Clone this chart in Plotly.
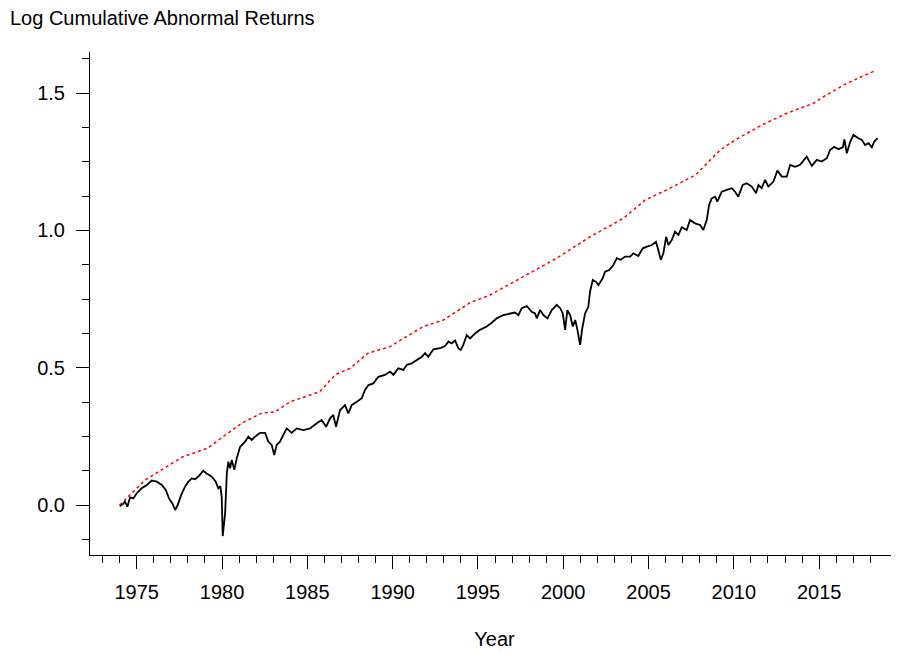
import plotly.graph_objects as go

# Red dotted benchmark line (year, value)
red_year = [1974.0, 1975.49, 1977.64, 1979.18, 1980.35, 1981.17, 1982.34, 1983.1, 1983.99,
            1985.74, 1986.62, 1987.5, 1988.56, 1989.85, 1990.63, 1991.8, 1992.97, 1994.54,
            1995.71, 1997.66, 1999.62, 2001.57, 2003.52, 2004.8, 2006.07, 2007.75, 2009.2,
            2010.08, 2011.65, 2013.1, 2014.66, 2015.25, 2016.62, 2018.28]
red_val = [0.0, 0.091, 0.174, 0.208, 0.262, 0.299, 0.335, 0.339, 0.376,
           0.413, 0.474, 0.498, 0.553, 0.577, 0.607, 0.650, 0.674, 0.737,
           0.765, 0.832, 0.899, 0.977, 1.044, 1.111, 1.148, 1.202, 1.293,
           1.330, 1.384, 1.427, 1.463, 1.487, 1.536, 1.582]

# Black line: log cumulative abnormal returns (year, value)
blk_year = [1974.0, 1974.2, 1974.31, 1974.45, 1974.61, 1974.8, 1975.0, 1975.29, 1975.59, 1975.88,
            1976.17, 1976.47, 1976.7, 1976.89, 1977.09, 1977.25, 1977.4, 1977.6, 1977.83, 1978.03,
            1978.22, 1978.42, 1978.65, 1978.9, 1979.1, 1979.4, 1979.63, 1979.78, 1979.9, 1979.98,
            1980.04, 1980.1, 1980.18, 1980.28, 1980.37, 1980.47, 1980.57, 1980.72, 1980.86, 1981.06,
            1981.35, 1981.54, 1981.74, 1981.93, 1982.23, 1982.52, 1982.71, 1982.91, 1983.06, 1983.2,
            1983.4, 1983.59, 1983.79, 1984.08, 1984.38, 1984.77, 1985.16, 1985.55, 1985.84, 1986.1,
            1986.33, 1986.52, 1986.68, 1986.92, 1987.21, 1987.4, 1987.6, 1987.9, 1988.19, 1988.38,
            1988.58, 1988.87, 1989.16, 1989.55, 1989.85, 1990.04, 1990.33, 1990.63, 1990.82, 1991.12,
            1991.41, 1991.71, 1991.9, 1992.09, 1992.39, 1992.78, 1993.07, 1993.27, 1993.46, 1993.66,
            1993.85, 1993.99, 1994.14, 1994.34, 1994.54, 1994.83, 1995.12, 1995.51, 1995.81, 1996.1,
            1996.49, 1996.88, 1997.17, 1997.37, 1997.57, 1997.86, 1998.15, 1998.35, 1998.45, 1998.64,
            1998.84, 1999.07, 1999.33, 1999.62, 1999.82, 1999.97, 2000.11, 2000.24, 2000.4, 2000.56,
            2000.7, 2000.83, 2000.99, 2001.1, 2001.28, 2001.47, 2001.57, 2001.73, 2001.92, 2002.06,
            2002.31, 2002.45, 2002.7, 2002.94, 2003.14, 2003.37, 2003.62, 2003.92, 2004.11, 2004.4,
            2004.66, 2004.9, 2005.19, 2005.44, 2005.58, 2005.72, 2005.87, 2006.03, 2006.16, 2006.36,
            2006.55, 2006.75, 2006.95, 2007.24, 2007.43, 2007.72, 2008.02, 2008.21, 2008.41, 2008.55,
            2008.7, 2008.9, 2009.03, 2009.29, 2009.58, 2009.88, 2010.07, 2010.26, 2010.52, 2010.75,
            2011.05, 2011.3, 2011.44, 2011.63, 2011.83, 2012.02, 2012.32, 2012.55, 2012.81, 2013.1,
            2013.3, 2013.59, 2013.88, 2014.27, 2014.57, 2014.86, 2015.15, 2015.45, 2015.64, 2015.88,
            2016.13, 2016.39, 2016.48, 2016.62, 2016.82, 2017.01, 2017.3, 2017.5, 2017.69, 2017.89,
            2018.09, 2018.22, 2018.42]
blk_val = [-0.004, 0.004, 0.012, -0.006, 0.028, 0.024, 0.043, 0.061, 0.073, 0.089,
           0.085, 0.073, 0.055, 0.024, 0.006, -0.018, 0.0, 0.036, 0.067, 0.085,
           0.097, 0.094, 0.106, 0.125, 0.115, 0.103, 0.085, 0.061, 0.069, 0.030,
           -0.113, -0.067, -0.030, 0.115, 0.158, 0.134, 0.164, 0.128, 0.170, 0.212,
           0.231, 0.249, 0.237, 0.249, 0.263, 0.263, 0.231, 0.219, 0.182, 0.219,
           0.231, 0.255, 0.279, 0.263, 0.279, 0.273, 0.279, 0.298, 0.310, 0.285,
           0.316, 0.328, 0.285, 0.346, 0.364, 0.334, 0.364, 0.376, 0.389, 0.419,
           0.437, 0.443, 0.467, 0.474, 0.486, 0.474, 0.498, 0.492, 0.510, 0.516,
           0.528, 0.540, 0.553, 0.540, 0.567, 0.571, 0.579, 0.595, 0.589, 0.599,
           0.571, 0.565, 0.583, 0.619, 0.607, 0.625, 0.638, 0.650, 0.664, 0.680,
           0.692, 0.698, 0.701, 0.692, 0.717, 0.725, 0.704, 0.698, 0.680, 0.710,
           0.692, 0.680, 0.710, 0.729, 0.717, 0.698, 0.638, 0.710, 0.692, 0.650,
           0.674, 0.638, 0.583, 0.638, 0.698, 0.722, 0.777, 0.820, 0.813, 0.801,
           0.826, 0.850, 0.856, 0.874, 0.899, 0.893, 0.905, 0.905, 0.917, 0.907,
           0.935, 0.941, 0.947, 0.959, 0.923, 0.893, 0.917, 0.977, 0.947, 0.965,
           0.996, 0.984, 1.012, 1.002, 1.038, 1.026, 1.020, 1.002, 1.038, 1.093,
           1.117, 1.123, 1.105, 1.141, 1.148, 1.154, 1.141, 1.123, 1.166, 1.172,
           1.160, 1.136, 1.166, 1.154, 1.184, 1.160, 1.178, 1.218, 1.196, 1.196,
           1.239, 1.232, 1.239, 1.269, 1.235, 1.257, 1.251, 1.263, 1.293, 1.305,
           1.296, 1.303, 1.332, 1.281, 1.323, 1.348, 1.336, 1.330, 1.311, 1.318,
           1.303, 1.323, 1.336]

# Yearly minor tick positions shown in the reference (1973..2018)
minor_years = list(range(1973, 2019))

FONT = "Liberation Sans, Arial, sans-serif"

# The page body adds an 8px margin, so the figure is sized/offset to compensate.
W, H = 891, 646

fig = go.Figure()
fig.add_trace(go.Scatter(x=red_year, y=red_val, mode="lines",
                         line=dict(color="#ff0000", width=1.5, dash="dot"),
                         showlegend=False, hoverinfo="skip"))
fig.add_trace(go.Scatter(x=blk_year, y=blk_val, mode="lines",
                         line=dict(color="#000000", width=1.8),
                         showlegend=False))

fig.update_layout(
    width=W, height=H,
    paper_bgcolor="white", plot_bgcolor="white",
    margin=dict(l=82, r=0, t=44, b=99, autoexpand=False),
    font=dict(family=FONT, size=20, color="#000000"),
    title=dict(text="Log Cumulative Abnormal Returns", x=2/W, xanchor="left",
               y=1-10/H, yanchor="middle", pad=dict(l=0, r=0, t=0, b=0),
               font=dict(family=FONT, size=20)),
    xaxis=dict(range=[1972.26, 2019.68], showgrid=False, zeroline=False, automargin=False,
               showline=True, linecolor="black", linewidth=1,
               ticks="outside", ticklen=13, tickwidth=1, tickcolor="black",
               tick0=1975, dtick=5, ticklabelstandoff=6,
               minor=dict(ticks="outside", ticklen=7, tickwidth=1, tickcolor="black",
                          tickmode="array", tickvals=minor_years, showgrid=False),
               title=dict(text="Year", standoff=29, font=dict(size=20))),
    yaxis=dict(range=[-0.182, 1.650], showgrid=False, zeroline=False, automargin=False,
               showline=True, linecolor="black", linewidth=1,
               ticks="outside", ticklen=13, tickwidth=1, tickcolor="black",
               tick0=0, dtick=0.5, tickformat=".1f", ticklabelstandoff=7,
               minor=dict(ticks="outside", ticklen=7, tickwidth=1, tickcolor="black",
                          dtick=0.125, showgrid=False)),
)

fig.write_html("out.html")
